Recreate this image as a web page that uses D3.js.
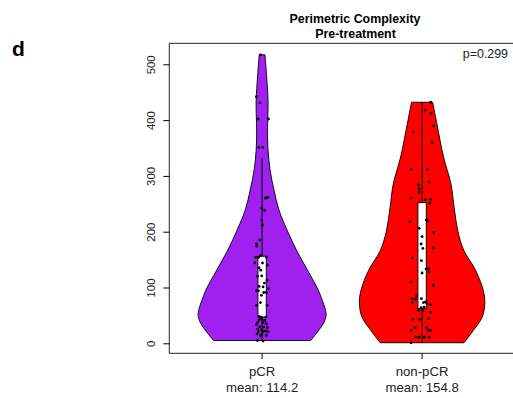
<!DOCTYPE html>
<html>
<head>
<meta charset="utf-8">
<script src="https://cdn.jsdelivr.net/npm/d3@7"></script>
<style>
  body { margin: 0; background: #fff; }
  text { font-family: "Liberation Sans", Arial, sans-serif; }
</style>
</head>
<body>
<div id="chart"></div>
<script>
// groups and labels
var groups = ["pCR", "non-pCR"];
var meanLabels = ["mean: 114.2", "mean: 154.8"];
var colors = ["#a020f0", "#ff0000"];
var yTicks = [0, 100, 200, 300, 400, 500];
var pLabel = "p=0.299";

// violin outlines (value, relative density)
var pcrProfileV = [5, 18, 36, 50, 62, 77, 95, 131, 167, 203, 239, 275, 311, 346, 382, 405, 435, 480, 517];
var pcrProfileD = [0.76, 0.85, 0.96, 1.0, 0.985, 0.94, 0.88, 0.71, 0.536, 0.39, 0.263, 0.185, 0.124, 0.093, 0.085, 0.09, 0.093, 0.07, 0.045];
var nonProfileV = [1, 23, 47, 72, 95, 131, 167, 203, 244, 286, 334, 394, 432];
var nonProfileD = [0.655, 0.80, 0.94, 0.98, 0.955, 0.835, 0.65, 0.555, 0.50, 0.45, 0.335, 0.23, 0.165];

// box stats: [whisker low, q1, q3, whisker high]
var pcrBox = [5, 47, 156, 332];
var nonBox = [1, 62, 252, 432];

// points: values and jitter (fraction of jitter width)
var pcrValues = [517, 442, 431, 402, 402, 351, 351, 261, 260, 262, 242, 238, 221, 212, 185, 178, 174,
  157, 154, 154, 154, 144, 144, 140, 135, 131, 120, 121, 113, 108, 102, 101, 98, 94, 94, 91, 91, 86,
  73, 68, 68, 48, 47, 47, 43, 42, 41, 38, 37, 35, 34, 30, 29, 28, 26, 24, 22, 21, 21, 21, 17, 16, 14, 13, 5, 4];
var pcrJitter = [-0.13, -0.47, -0.17, -0.33, 0.53, -0.28, 0.06, 0.37, 0.28, 0.48, -0.03, 0.22, -0.03, 0.03, -0.19, -0.47, -0.44,
  -0.14, -0.53, -0.31, 0.36, -0.61, 0.03, 0.44, -0.25, -0.11, -0.39, -0.03, 0.42, 0.19, -0.25, 0.08, 0.53, -0.47, -0.31, 0.14, 0.36, -0.06,
  -0.14, -0.47, 0.42, -0.25, -0.06, 0.31, -0.03, -0.25, 0.22, -0.36, 0.08, 0.36, -0.47, -0.19, 0.14, 0.44, -0.36, -0.06, 0.28, -0.31, 0.08, 0.5, -0.42, -0.03, 0.36, -0.14, -0.39, 0.08];
var nonValues = [432, 418, 412, 390, 379, 360, 312, 312, 284, 277, 271, 289, 260, 257, 258, 251, 221, 219, 218,
  206, 198, 191, 178, 170, 171, 153, 148, 133, 134, 128, 126, 110, 104, 85, 80, 79, 73, 80, 73, 74, 71, 69,
  65, 64, 59, 59, 56, 44, 43, 43, 23, 28, 28, 23, 23, 11, 11, 11, 11, 1];
var nonJitter = [0.72, 0.25, 0.75, 0.97, -0.75, 0.83, -0.92, 0.44, -0.31, -0.25, -0.25, 0.58, -0.92, 0.28, 0.72, 0.64, 0.36, 0.5, -1.0,
  -0.25, 0.97, 0.0, -0.08, 0.06, 0.94, -0.81, -0.06, 0.33, 0.53, 0.58, 0.0, -0.94, 0.92, -0.47, -0.83, -0.53, -0.83, -0.06, 0.11, 0.28, 0.42, 0.69,
  0.17, -0.08, 0.03, -0.33, 0.72, 0.53, -0.78, -0.22, -0.92, -0.58, 0.36, 0.53, 0.72, -0.53, 0.19, 0.58, -0.25, -0.92];

var W = 513, H = 398;
var svg = d3.select("#chart").append("svg").attr("width", W).attr("height", H);

var x = d3.scaleLinear().domain([0.42, 2.58]).range([169.3, 514.9]);
var y = d3.scaleLinear().domain([0, 500]).range([343.3, 64.3]);
var violinHalf = 0.4, boxHalf = 0.026, jitterW = 0.075;

var series = [
  {v: pcrProfileV, d: pcrProfileD, box: pcrBox, pv: pcrValues, pj: pcrJitter},
  {v: nonProfileV, d: nonProfileD, box: nonBox, pv: nonValues, pj: nonJitter}
];

var plot = svg.append("g");

series.forEach(function (s, i) {
  var cx = i + 1;
  var prof = s.v.map(function (v, k) { return [v, s.d[k]]; });
  var area = d3.area()
    .curve(d3.curveCatmullRom)
    .y(function (p) { return y(p[0]); })
    .x0(function (p) { return x(cx - p[1] * violinHalf); })
    .x1(function (p) { return x(cx + p[1] * violinHalf); });
  plot.append("path")
    .attr("d", area(prof))
    .attr("fill", colors[i])
    .attr("stroke", "#000")
    .attr("stroke-width", 0.9);

  // whisker
  plot.append("line")
    .attr("x1", x(cx)).attr("x2", x(cx))
    .attr("y1", y(s.box[0])).attr("y2", y(s.box[3]))
    .attr("stroke", "#000").attr("stroke-width", 1);
  // box
  plot.append("rect")
    .attr("x", x(cx - boxHalf))
    .attr("width", x(cx + boxHalf) - x(cx - boxHalf))
    .attr("y", y(s.box[2]))
    .attr("height", y(s.box[1]) - y(s.box[2]))
    .attr("fill", "#fff")
    .attr("stroke", "#000").attr("stroke-width", 0.9);

  // jittered points
  plot.selectAll(null)
    .data(s.pv)
    .enter().append("circle")
    .attr("cx", function (v, k) { return x(cx + s.pj[k] * jitterW); })
    .attr("cy", function (v) { return y(v); })
    .attr("r", 1.4)
    .attr("fill", "#000");
});

// frame (left, top, bottom; right edge lies outside the picture)
svg.append("path")
  .attr("d", "M" + W + "," + 43.3 + "H" + x.range()[0] + "V" + 353.3 + "H" + W)
  .attr("fill", "none").attr("stroke", "#222").attr("stroke-width", 1);

// y axis
var yAxis = svg.append("g").attr("transform", "translate(" + x.range()[0] + ",0)")
  .call(d3.axisLeft(y).tickValues(yTicks).tickSize(6).tickFormat(d3.format("d")));
yAxis.select(".domain").remove();
yAxis.selectAll(".tick line").attr("stroke", "#000");
yAxis.selectAll(".tick text")
  .attr("x", null).attr("dy", null)
  .attr("transform", "translate(-14,0) rotate(-90)")
  .attr("text-anchor", "middle")
  .attr("font-size", 11.4)
  .attr("fill", "#222");

// x axis ticks and labels
var xg = svg.append("g");
groups.forEach(function (g, i) {
  var px = x(i + 1);
  xg.append("line").attr("x1", px).attr("x2", px).attr("y1", 353.3).attr("y2", 359)
    .attr("stroke", "#000");
  xg.append("text").attr("x", px).attr("y", 376).attr("text-anchor", "middle")
    .attr("font-size", 13.2).attr("fill", "#222").text(g);
  xg.append("text").attr("x", px).attr("y", 392).attr("text-anchor", "middle")
    .attr("font-size", 13.2).attr("fill", "#222").text(meanLabels[i]);
});

// titles
svg.append("text").attr("x", 355).attr("y", 22.5).attr("text-anchor", "middle")
  .attr("font-size", 12.4).attr("font-weight", "bold").text("Perimetric Complexity");
svg.append("text").attr("x", 355.5).attr("y", 37.5).attr("text-anchor", "middle")
  .attr("font-size", 12.4).attr("font-weight", "bold").text("Pre-treatment");
svg.append("text").attr("x", 508).attr("y", 58).attr("text-anchor", "end")
  .attr("font-size", 12.4).attr("fill", "#222").text(pLabel);
svg.append("text").attr("x", 12).attr("y", 56).attr("font-size", 21)
  .attr("font-weight", "bold").text("d");
</script>
</body>
</html>
